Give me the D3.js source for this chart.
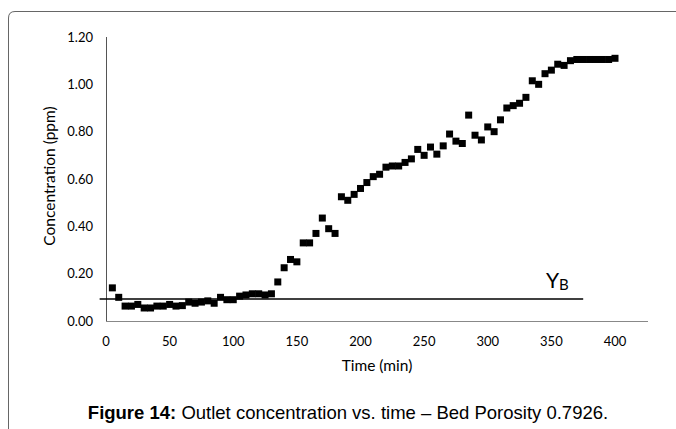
<!DOCTYPE html>
<html><head><meta charset="utf-8">
<script src="https://cdn.jsdelivr.net/npm/d3@7"></script>
<style>body{margin:0;background:#fff}svg{display:block}</style>
</head><body>
<svg id="c" width="676" height="429"></svg>
<script>
const times = [5,10,15,20,25,30,35,40,45,50,55,60,65,70,75,80,85,90,95,100,
  105,110,115,120,125,130,135,140,145,150,155,160,165,170,175,180,185,190,195,200,
  205,210,215,220,225,230,235,240,245,250,255,260,265,270,275,280,285,290,295,300,
  305,310,315,320,325,330,335,340,345,350,355,360,365,370,375,380,385,390,395,400];
const concentration = [0.14,0.10,0.063,0.063,0.07,0.055,0.055,0.063,0.063,0.07,0.063,0.065,0.08,0.075,0.08,0.085,0.075,0.10,0.09,0.09,
  0.105,0.11,0.115,0.115,0.11,0.115,0.165,0.225,0.26,0.25,0.33,0.33,0.37,0.435,0.39,0.37,0.525,0.51,0.535,0.56,
  0.585,0.61,0.62,0.65,0.655,0.655,0.67,0.685,0.725,0.70,0.735,0.705,0.74,0.79,0.76,0.75,0.87,0.785,0.765,0.82,
  0.80,0.85,0.90,0.91,0.92,0.945,1.015,1.00,1.045,1.06,1.085,1.08,1.10,1.105,1.105,1.105,1.105,1.105,1.105,1.11];
const xTicks = [0,50,100,150,200,250,300,350,400];
const yTicks = [0,0.2,0.4,0.6,0.8,1.0,1.2];
const ybValue = 0.093, ybStart = -5, ybEnd = 375;

const svg = d3.select("#c");
const x = d3.scaleLinear().domain([0,400]).range([106,615]);
const y = d3.scaleLinear().domain([0,1.2]).range([321,37]);

// border
svg.append("path").attr("d","M8.5,429 L8.5,18 Q8.5,11.5 15,11.5 L676,11.5")
  .attr("fill","none").attr("stroke","#666").attr("stroke-width",1);

// axes
const fnt = "Lato, 'Open Sans', sans-serif";
svg.append("line").attr("x1",x(0)).attr("x2",648).attr("y1",y(0)+0.5).attr("y2",y(0)+0.5)
  .attr("stroke","#888");
svg.append("line").attr("x1",x(0)+0.5).attr("x2",x(0)+0.5).attr("y1",y(1.2)).attr("y2",y(0))
  .attr("stroke","#555");

svg.append("g").selectAll("text").data(xTicks).join("text")
  .attr("x",d=>x(d)).attr("y",346).attr("text-anchor","middle")
  .attr("font-family",fnt).attr("font-size",13).attr("fill","#000").text(d=>d);
svg.append("g").selectAll("text").data(yTicks).join("text")
  .attr("x",93).attr("y",d=>y(d)+4.5).attr("text-anchor","end")
  .attr("font-family",fnt).attr("font-size",13).attr("fill","#000").text(d=>d.toFixed(2));

svg.append("text").attr("x",377).attr("y",371).attr("text-anchor","middle")
  .attr("font-family",fnt).attr("font-size",15.5).text("Time (min)");
svg.append("text").attr("transform","translate(55,176) rotate(-90)").attr("text-anchor","middle")
  .attr("font-family",fnt).attr("font-size",15.5).text("Concentration (ppm)");

// Y_B line
svg.append("line").attr("x1",x(ybStart)).attr("x2",x(ybEnd)).attr("y1",y(ybValue)).attr("y2",y(ybValue))
  .attr("stroke","#000").attr("stroke-width",1.5);
const yb = svg.append("text").attr("x",546).attr("y",288).attr("font-family",fnt).attr("font-size",21);
yb.append("tspan").text("Y");
yb.append("tspan").attr("font-size",15).attr("dy",2).text("B");

// points
svg.append("g").selectAll("rect").data(times).join("rect")
  .attr("x",(d)=>x(d)-3.5).attr("y",(d,i)=>y(concentration[i])-3.5)
  .attr("width",7).attr("height",7).attr("fill","#000");

// caption
const cap = svg.append("text").attr("x",348).attr("y",419).attr("text-anchor","middle")
  .attr("font-family","'Liberation Sans', Arial, sans-serif").attr("font-size",18.5);
cap.append("tspan").attr("font-weight","bold").text("Figure 14:");
cap.append("tspan").text(" Outlet concentration vs. time \u2013 Bed Porosity 0.7926.");
</script>
</body></html>
